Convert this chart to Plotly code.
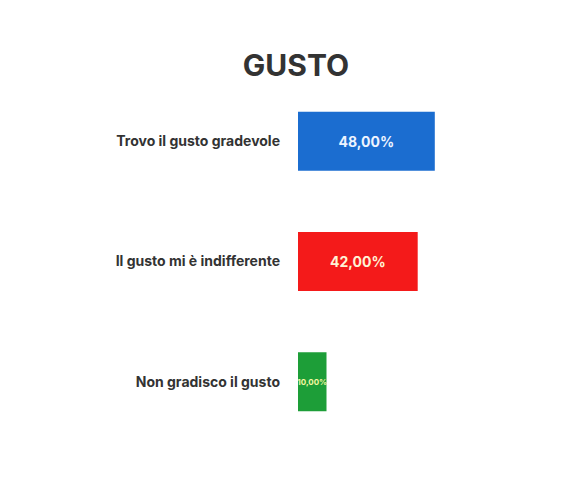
import plotly.graph_objects as go

# data
risposte = ["Trovo il gusto gradevole", "Il gusto mi è indifferente", "Non gradisco il gusto"]
percentuali = [48.0, 42.0, 10.0]
etichette = ["48,00%", "42,00%", "10,00%"]
colori = ["#1b6dd0", "#f41a1a", "#1d9e38"]

fig = go.Figure()

fig.add_trace(go.Bar(
    x=percentuali,
    y=risposte,
    orientation="h",
    marker=dict(color=colori, line=dict(width=0)),
    text=etichette,
    textposition="inside",
    insidetextanchor="middle",
    textangle=0,
    constraintext="none",
    textfont=dict(family="Inter", color=["#eef4ff", "#fff3d6", "#f4f7a0"], size=[14, 14, 8], weight="bold"),
    hoverinfo="skip",
))

# page body has an 8px margin, so margins are shifted accordingly
fig.update_layout(
    width=563,
    height=495,
    margin=dict(l=290, r=102, t=73, b=61),
    paper_bgcolor="white",
    plot_bgcolor="white",
    bargap=0.51,
    showlegend=False,
    title=dict(
        text="<b>GUSTO</b>",
        x=288 / 563,
        xref="container",
        xanchor="center",
        y=1 - 57 / 495,
        yref="container",
        yanchor="middle",
        font=dict(family="Inter", size=30, color="#333333"),
    ),
    font=dict(family="Inter", color="#333333"),
)

fig.update_xaxes(range=[0, 60], visible=False, showgrid=False, zeroline=False)
fig.update_yaxes(
    autorange="reversed",
    showgrid=False,
    showline=False,
    zeroline=False,
    ticks="",
    ticklabelstandoff=17,
    tickfont=dict(family="Inter", size=14, color="#333333", weight="bold"),
)

fig.write_html("out.html")
